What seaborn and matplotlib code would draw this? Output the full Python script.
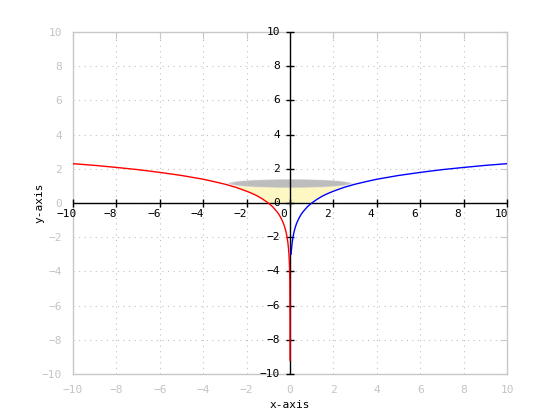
import numpy as np
import pandas as pd
import seaborn as sns
import matplotlib.pyplot as plt
from matplotlib.patches import Ellipse

# curve (left branch red, right branch blue)
red_x = [-10, -9, -8, -7, -6, -5, -4, -3.5, -3, -2.5, -2, -1.75, -1.5, -1.25, -1,
         -0.8, -0.6, -0.5, -0.4, -0.3, -0.25, -0.2, -0.15, -0.1, -0.07, -0.05,
         -0.03, -0.02, -0.01, -0.001, -0.0001]
red_y = [2.30, 2.20, 2.08, 1.95, 1.79, 1.61, 1.39, 1.25, 1.10, 0.92, 0.69, 0.56,
         0.41, 0.22, 0.0, -0.22, -0.51, -0.69, -0.92, -1.20, -1.39, -1.61, -1.90,
         -2.30, -2.66, -3.00, -3.51, -3.91, -4.61, -6.91, -9.21]
blue_x = [0.05, 0.07, 0.1, 0.15, 0.2, 0.25, 0.3, 0.4, 0.5, 0.6, 0.8, 1, 1.25, 1.5,
          1.75, 2, 2.5, 3, 3.5, 4, 5, 6, 7, 8, 9, 10]
blue_y = [-3.00, -2.66, -2.30, -1.90, -1.61, -1.39, -1.20, -0.92, -0.69, -0.51,
          -0.22, 0.0, 0.22, 0.41, 0.56, 0.69, 0.92, 1.10, 1.25, 1.39, 1.61, 1.79,
          1.95, 2.08, 2.20, 2.30]

# shaded cup region
fill_x = [-2.7, -2.5, -2.25, -2, -1.75, -1.5, -1.25, -1, 1, 1.25, 1.5, 1.75, 2, 2.25, 2.5, 2.7]
fill_lo = [0.99, 0.92, 0.81, 0.69, 0.56, 0.41, 0.22, 0.0, 0.0, 0.22, 0.41, 0.56, 0.69, 0.81, 0.92, 0.99]
fill_top = 1.0

ticks = [-10, -8, -6, -4, -2, 0, 2, 4, 6, 8, 10]

sns.set_style("white")
plt.rcParams['font.family'] = ['DejaVu Sans Mono']

fig = plt.figure(figsize=(5.6, 4.2), dpi=100)
ax = fig.add_axes([0.1304, 0.1095, 0.775, 0.8143])

ax.fill_between(fill_x, fill_lo, fill_top, color='#fdf7c4', lw=0, zorder=1)

# grey disc on top of the cup, soft edges
for w, h, a in [(5.8, 0.52, 0.35), (5.6, 0.47, 0.6), (5.3, 0.42, 1.0)]:
    ax.add_patch(Ellipse((0, 1.14), w, h, facecolor='#bdbdbd', edgecolor='none',
                         alpha=a, zorder=2))

red = pd.DataFrame({'x': red_x, 'y': red_y})
blue = pd.DataFrame({'x': blue_x, 'y': blue_y})
sns.lineplot(data=red, x='x', y='y', color='red', lw=1.0, sort=False,
             estimator=None, ax=ax, zorder=4)
sns.lineplot(data=blue, x='x', y='y', color='blue', lw=1.0, sort=False,
             estimator=None, ax=ax, zorder=4)

ax.set_xlim(-10, 10)
ax.set_ylim(-10, 10)
ax.set_xticks(ticks)
ax.set_yticks(ticks)
ax.set_xticklabels([str(t).replace('-', '\u2212') for t in ticks])
ax.set_yticklabels([str(t).replace('-', '\u2212') for t in ticks])
ax.tick_params(direction='in', length=5, width=0.8, color='#c8c8c8',
               labelcolor='#c4c4c4', labelsize=8, top=True, right=True, pad=8)
for s in ax.spines.values():
    s.set_color('#c8c8c8')
    s.set_linewidth(1.0)
ax.grid(True, linestyle=(0, (1, 4)), color='#c0c0c0', lw=0.8)

# zero axes
ax.axhline(0, color='black', lw=1.0, zorder=3)
ax.axvline(0, color='black', lw=1.0, zorder=3)
for t in ticks:
    ax.plot([t], [0], marker='|', color='black', ms=6, mew=1.0, zorder=3, clip_on=False)
    ax.plot([0], [t], marker='_', color='black', ms=6, mew=1.0, zorder=3, clip_on=False)
    lab = str(t).replace('-', '\u2212')
    ax.annotate(lab, (t, 0), xytext=(-6, -6), textcoords='offset pixels',
                ha='center', va='top', fontsize=8, color='black', zorder=5)
    ax.annotate(lab, (0, t), xytext=(-10, 0), textcoords='offset pixels',
                ha='right', va='center', fontsize=8, color='black', zorder=5)

ax.set_xlabel('x-axis', fontsize=8, color='black')
ax.set_ylabel('y-axis', fontsize=8, color='black')
ax.xaxis.set_label_coords(0.5, -0.076)
ax.yaxis.set_label_coords(-0.066, 0.5)

fig.savefig('out.png', dpi=100)
